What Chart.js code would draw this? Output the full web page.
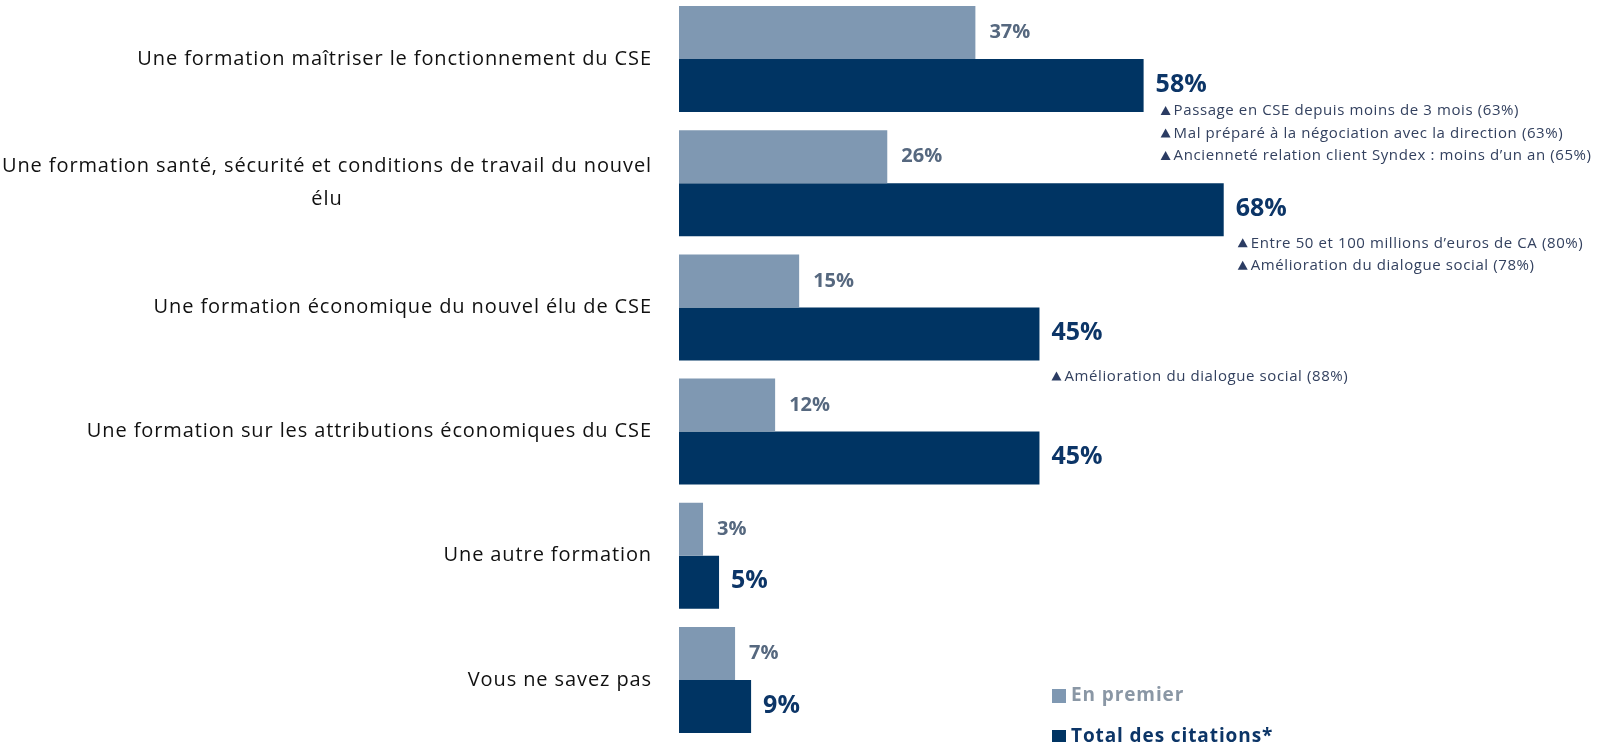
<!DOCTYPE html>
<html>
<head>
<meta charset="utf-8">
<script src="https://cdn.jsdelivr.net/npm/chart.js@4.4.1/dist/chart.umd.min.js"></script>
<style>
  html, body { margin: 0; padding: 0; background: #fff; overflow: hidden; }
  #wrap { position: absolute; left: 0; top: -3px; width: 1597px; height: 745px; }
</style>
</head>
<body>
<div id="wrap"><canvas id="chart"></canvas></div>
<script>
// --- data ---
const categories = [
  ['Une formation maîtriser le fonctionnement du CSE'],
  ['Une formation santé, sécurité et conditions de travail du nouvel', 'élu'],
  ['Une formation économique du nouvel élu de CSE'],
  ['Une formation sur les attributions économiques du CSE'],
  ['Une autre formation'],
  ['Vous ne savez pas']
]
const enPremier = [37, 26, 15, 12, 3, 7]
const totalCitations = [58, 68, 45, 45, 5, 9]
const seriesNames = ['En premier', 'Total des citations*']
const notes = [
  [
    'Passage en CSE depuis moins de 3 mois (63%)',
    'Mal préparé à la négociation avec la direction (63%)',
    'Ancienneté relation client Syndex : moins d’un an (65%)'
  ],
  [
    'Entre 50 et 100 millions d’euros de CA (80%)',
    'Amélioration du dialogue social (78%)'
  ],
  ['Amélioration du dialogue social (88%)'],
  [], [], []
]

// --- styling ---
const LIGHT = '#7f98b2'
const DARK = '#003463'
const LIGHT_TEXT = '#56687f'
const DARK_TEXT = '#0c3567'
const NOTE_TEXT = '#33415f'
const FONT = "'Open Sans', sans-serif"
const AXIS_LEFT = 679
// note placement relative to end/bottom of the dark bar: [dx, dy of first line]
const noteOffsets = [[17, -1], [14, 7], [12, 16], [0, 0], [0, 0], [0, 0]]

const categoryLabels = {
  id: 'categoryLabels',
  afterDraw(chart) {
    const ctx = chart.ctx
    const yScale = chart.scales.y
    const right = chart.chartArea.left - 27
    ctx.save()
    ctx.font = `20px ${FONT}`
    ctx.letterSpacing = '0.9px'
    ctx.fillStyle = '#111'
    ctx.textAlign = 'center'
    ctx.textBaseline = 'middle'
    categories.forEach((lines, i) => {
      const y = yScale.getPixelForValue(i)
      const w = Math.max(...lines.map(l => ctx.measureText(l).width))
      const cx = right - w / 2
      const lh = 33
      lines.forEach((line, j) => {
        ctx.fillText(line, cx, y + (j - (lines.length - 1) / 2) * lh)
      })
    })
    ctx.restore()
  }
}

const valueLabels = {
  id: 'valueLabels',
  afterDatasetsDraw(chart) {
    const ctx = chart.ctx
    ctx.save()
    ctx.textAlign = 'left'
    ctx.textBaseline = 'middle'
    chart.data.datasets.forEach((ds, di) => {
      const meta = chart.getDatasetMeta(di)
      meta.data.forEach((bar, i) => {
        if (di === 0) {
          ctx.font = `bold 20px ${FONT}`
          ctx.fillStyle = LIGHT_TEXT
          ctx.fillText(ds.data[i] + '%', bar.x + 14, bar.y)
        } else {
          ctx.font = `bold 25px ${FONT}`
          ctx.fillStyle = DARK_TEXT
          ctx.fillText(ds.data[i] + '%', bar.x + 12, bar.y - 1)
        }
      })
    })

    // significance notes under the dark bars
    const meta = chart.getDatasetMeta(1)
    ctx.font = `15px ${FONT}`
    ctx.letterSpacing = '0.6px'
    ctx.textBaseline = 'middle'
    notes.forEach((list, i) => {
      const bar = meta.data[i]
      const bottom = bar.y + bar.height / 2
      const [dx, dy] = noteOffsets[i]
      list.forEach((txt, j) => {
        const x = bar.x + dx
        const y = bottom + dy + j * 22.5
        ctx.fillStyle = '#2b3c63'
        ctx.beginPath()
        ctx.moveTo(x, y + 4)
        ctx.lineTo(x + 10, y + 4)
        ctx.lineTo(x + 5, y - 5)
        ctx.closePath()
        ctx.fill()
        ctx.fillStyle = NOTE_TEXT
        ctx.fillText(txt, x + 13, y)
      })
    })
    ctx.restore()
  }
}

const customLegend = {
  id: 'customLegend',
  afterDraw(chart) {
    const ctx = chart.ctx
    const items = [
      { text: seriesNames[0], box: LIGHT, color: '#8a97a5', y: 699 },
      { text: seriesNames[1], box: DARK, color: DARK_TEXT, y: 740 }
    ]
    ctx.save()
    ctx.font = `bold 19px ${FONT}`
    ctx.letterSpacing = '0.9px'
    ctx.textBaseline = 'middle'
    items.forEach(it => {
      ctx.fillStyle = it.box
      ctx.fillRect(1052, it.y - 7, 14, 14)
      ctx.fillStyle = it.color
      ctx.fillText(it.text, 1071, it.y)
    })
    ctx.restore()
  }
}

new Chart(document.getElementById('chart'), {
  type: 'bar',
  data: {
    labels: categories,
    datasets: [
      { label: seriesNames[0], data: enPremier, backgroundColor: LIGHT },
      { label: seriesNames[1], data: totalCitations, backgroundColor: DARK }
    ]
  },
  options: {
    indexAxis: 'y',
    responsive: true,
    maintainAspectRatio: false,
    animation: false,
    layout: { padding: { left: AXIS_LEFT, right: 0, top: 0, bottom: 0 } },
    datasets: {
      bar: { categoryPercentage: 0.854, barPercentage: 1.0 }
    },
    scales: {
      x: { display: false, min: 0, max: 114.6 },
      y: { display: false }
    },
    plugins: {
      legend: { display: false },
      tooltip: { enabled: false }
    }
  },
  plugins: [categoryLabels, valueLabels, customLegend]
})
</script>
</body>
</html>
